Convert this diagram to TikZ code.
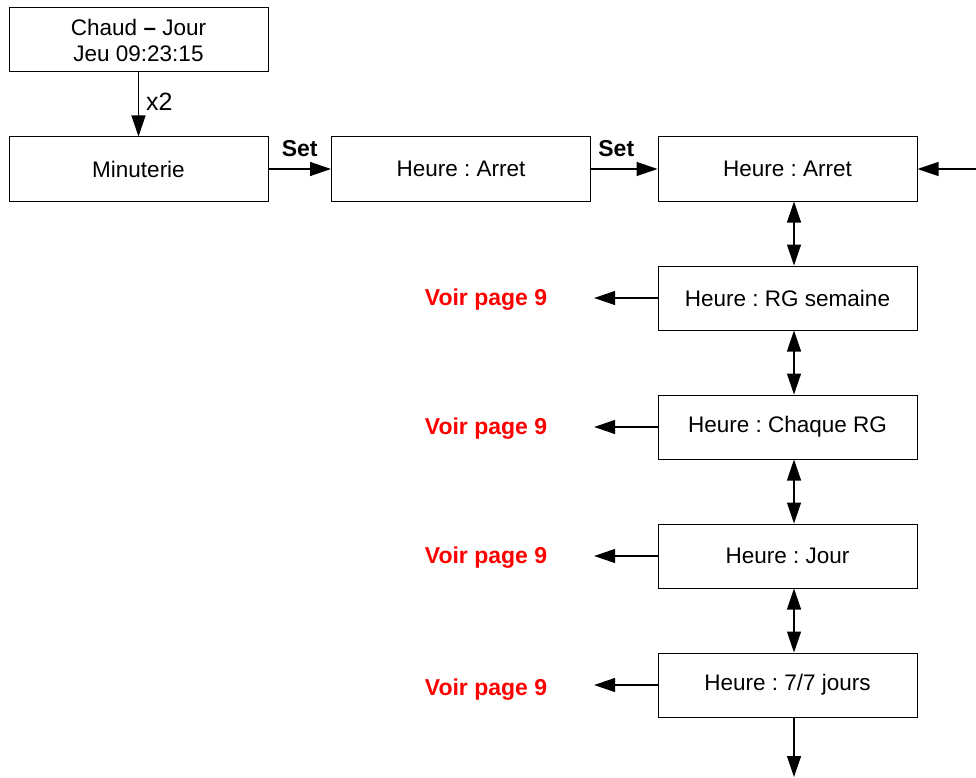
\documentclass[tikz,border=0pt]{standalone}
\usepackage{fontspec}
\setmainfont{Liberation Sans}
\usetikzlibrary{arrows.meta}
\frenchspacing
\begin{document}
\begin{tikzpicture}[x=1pt,y=-1pt,
  box/.style={draw=black, line width=1pt, minimum width=259pt, minimum height=64pt,
    inner sep=0pt, align=center, font=\fontsize{22.5}{26}\selectfont},
  arr/.style={-{Triangle[length=21pt,width=14pt]}, line width=1.3pt},
  darr/.style={{Triangle[length=21pt,width=14pt]}-{Triangle[length=21pt,width=14pt]}, line width=1.3pt},
  setlbl/.style={font=\fontsize{23}{26}\selectfont\bfseries, inner sep=0pt},
  redlbl/.style={font=\fontsize{23}{26}\selectfont\bfseries, text=red, inner sep=0pt, outer xsep=47pt},
  plainlbl/.style={font=\fontsize{25}{28}\selectfont, inner sep=0pt}]
\useasboundingbox (0,0) rectangle (976,778);

% boxes
\node[box] (etat) at (138.5,40) {Chaud {\bfseries --} Jour\\Jeu 09:23:15};
\node[box] (minut) at (138.5,169) {Minuterie};
\node[box] (arret1) at (461,169) {Heure : Arret};
\node[box] (arret2) at (787.5,169) {Heure : Arret};
\node[box] (semaine) at (787.5,298) {Heure : RG semaine};
\node[box] (chaque) at (787.5,427) {Heure : Chaque RG};
\node[box] (jour) at (787.5,556) {Heure : Jour};
\node[box] (jours7) at (787.5,685) {Heure : 7/7 jours};

% references to other pages
\node[redlbl] (v1) at (486,300) {Voir page 9};
\node[redlbl] (v2) at (486,429) {Voir page 9};
\node[redlbl] (v3) at (486,558) {Voir page 9};
\node[redlbl] (v4) at (486,690) {Voir page 9};

% column of the vertical links and free ends
\coordinate (col) at (794,0);
\coordinate (rin) at (976,169);
\coordinate (bout) at (794,777);

% connectors
\draw[arr] (etat.south) -- node[plainlbl, right=7pt, pos=0.45] {x2} (minut.north);
\draw[arr] (minut.east) -- node[setlbl, above=12pt] {Set} (arret1.west);
\draw[arr] (arret1.east) -- node[setlbl, above=12pt, pos=0.38] {Set} (arret2.west);
\draw[arr] (rin) -- (arret2.east);

\draw[darr] (arret2.south -| col) -- (semaine.north -| col);
\draw[darr] (semaine.south -| col) -- (chaque.north -| col);
\draw[darr] (chaque.south -| col) -- (jour.north -| col);
\draw[darr] (jour.south -| col) -- (jours7.north -| col);
\draw[arr] (jours7.south -| col) -- (bout);

\draw[arr] (semaine.west) -- (semaine.west -| v1.east);
\draw[arr] (chaque.west) -- (chaque.west -| v2.east);
\draw[arr] (jour.west) -- (jour.west -| v3.east);
\draw[arr] (jours7.west) -- (jours7.west -| v4.east);
\end{tikzpicture}
\end{document}
